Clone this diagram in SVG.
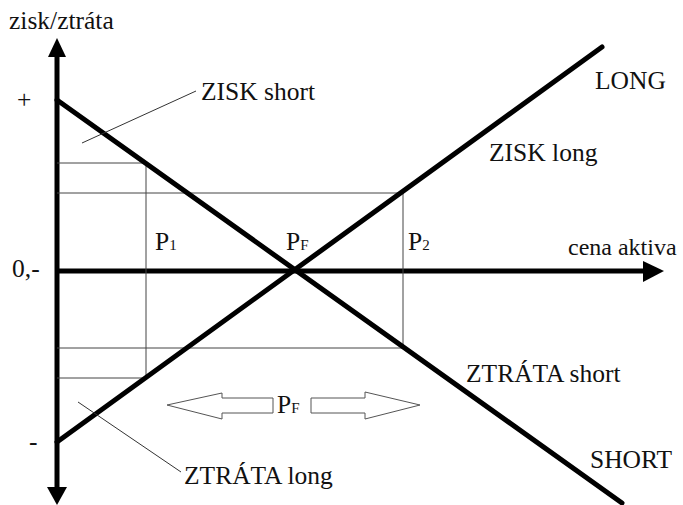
<svg xmlns="http://www.w3.org/2000/svg" width="683" height="505" viewBox="0 0 683 505">
  <style>
    text { font-family: 'Liberation Serif', 'DejaVu Serif', serif; font-size: 25.5px; fill: #111; }
    .sub { font-size: 15px; }
    .axis { stroke: #000; stroke-width: 5; fill: none; }
    .pos { stroke: #000; stroke-width: 5; fill: none; stroke-linecap: round; }
    .grid { stroke: #444; stroke-width: 1; fill: none; }
    .lead { stroke: #333; stroke-width: 1; fill: none; }
    .block { stroke: #555; stroke-width: 1; fill: #fff; }
    .head { fill: #000; }
  </style>
  <rect width="683" height="505" fill="#fff"/>

  <!-- axes -->
  <g id="axes">
    <line class="axis" x1="57" y1="52" x2="57" y2="492"/>
    <polygon class="head" points="57,38 48,57 66,57"/>
    <polygon class="head" points="57,505 47,487 67,487"/>
    <line class="axis" x1="57" y1="271" x2="648"  y2="271"/>
    <polygon class="head" points="664,271 643,261 643,282"/>
    <text x="9" y="29">zisk/ztráta</text>
    <text x="17" y="108">+</text>
    <text x="12" y="277">0,-</text>
    <text x="29" y="450">-</text>
    <text x="568" y="255" style="font-size:24px">cena aktiva</text>
  </g>

  <!-- helper lines marking the price levels P1 and P2 -->
  <g id="levels">
    <line class="grid" x1="57" y1="163" x2="146" y2="163"/>
    <line class="grid" x1="57" y1="193" x2="403" y2="193"/>
    <line class="grid" x1="57" y1="348" x2="403" y2="348"/>
    <line class="grid" x1="57" y1="378" x2="146" y2="378"/>
    <line class="grid" x1="146" y1="163" x2="146" y2="378"/>
    <line class="grid" x1="403" y1="193" x2="403" y2="348"/>
  </g>

  <!-- payoff lines -->
  <g id="short-position">
    <line class="pos" x1="57" y1="100" x2="622" y2="503"/>
    <text x="590" y="468">SHORT</text>
    <text x="466" y="382">ZTRÁTA short</text>
  </g>
  <g id="long-position">
    <line class="pos" x1="57" y1="442" x2="602" y2="47"/>
    <text x="595" y="89">LONG</text>
    <text x="489" y="161">ZISK long</text>
  </g>

  <!-- price labels -->
  <g id="p1"><text x="155" y="250">P<tspan class="sub">1</tspan></text></g>
  <g id="pf"><text x="286" y="250">P<tspan class="sub">F</tspan></text></g>
  <g id="p2"><text x="408" y="250">P<tspan class="sub">2</tspan></text></g>

  <!-- annotation leaders -->
  <g id="connectors">
    <line class="lead" x1="82" y1="143" x2="196" y2="91"/>
    <line class="lead" x1="78" y1="402" x2="181" y2="472"/>
  </g>
  <g id="zisk-short"><text x="201" y="100">ZISK short</text></g>
  <g id="ztrata-long"><text x="184" y="484">ZTRÁTA long</text></g>

  <!-- movement of price around PF -->
  <g id="pf-range">
    <polygon class="block" points="167,405 222,393 222,398 273,398 273,413 222,413 222,419"/>
    <polygon class="block" points="420,405 365,392 365,398 311,398 311,413 365,413 365,419"/>
    <text x="277" y="413">P<tspan class="sub">F</tspan></text>
  </g>
</svg>
